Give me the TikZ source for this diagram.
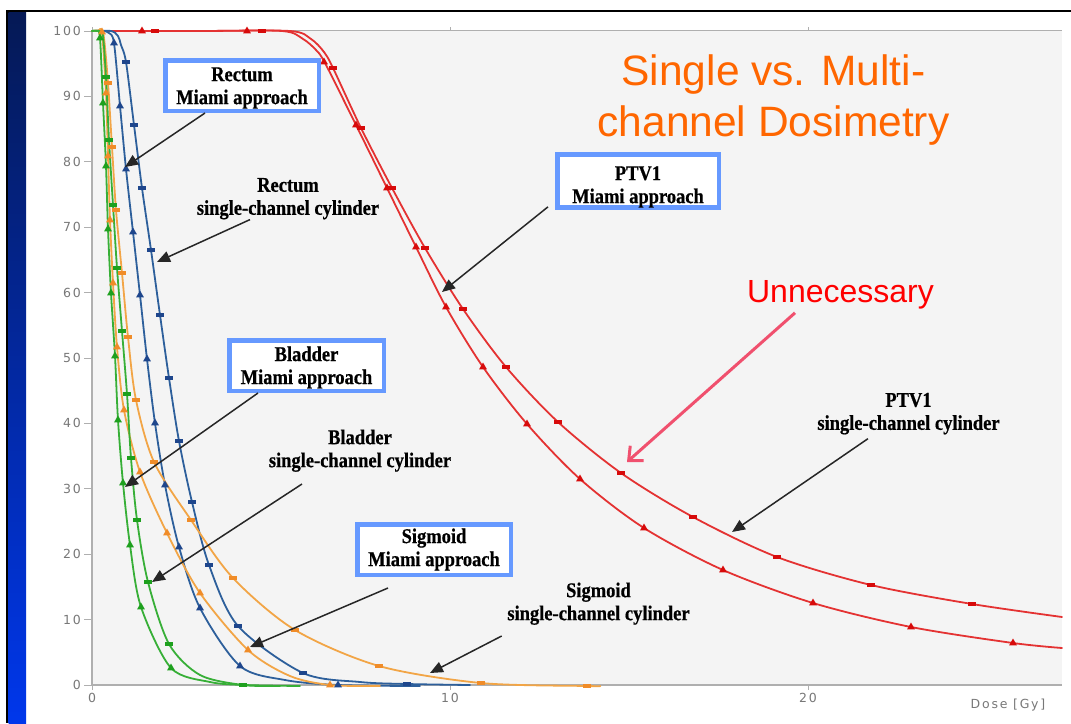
\documentclass[tikz,border=0pt]{standalone}
\usepackage{fontspec}
\setmainfont{Liberation Serif}
\newfontfamily\lblfont[FakeStretch=0.88,FakeBold=0.6]{Liberation Serif}
\newfontfamily\ttlfont{Liberation Sans}
\newfontfamily\axfont[LetterSpace=14]{DejaVu Sans}
\usetikzlibrary{arrows.meta,shapes.geometric}

\definecolor{plotbg}{RGB}{244,244,244}
\definecolor{axisgray}{RGB}{175,175,175}
\definecolor{ticktext}{RGB}{120,120,120}
\definecolor{boxblue}{RGB}{102,153,255}
\definecolor{titleorange}{RGB}{255,102,0}
\definecolor{pinkarrow}{RGB}{240,80,110}
\definecolor{redc}{RGB}{228,50,50}
\definecolor{redm}{RGB}{215,10,10}
\definecolor{bluec}{RGB}{45,95,155}
\definecolor{bluem}{RGB}{30,70,140}
\definecolor{orangec}{RGB}{242,165,70}
\definecolor{orangem}{RGB}{240,140,40}
\definecolor{greenc}{RGB}{55,175,55}
\definecolor{greenm}{RGB}{30,160,30}
\definecolor{navytop}{RGB}{5,25,85}
\definecolor{bluebot}{RGB}{0,55,235}

\newcommand{\hstrut}[1]{\rule{0pt}{#1pt}}

\tikzset{
  curve/.style={line width=1.8pt, line join=round, line cap=round},
  tri/.style={regular polygon, regular polygon sides=3, inner sep=0pt,
              minimum size=9pt, draw=none},
  sq/.style={rectangle, inner sep=0pt, minimum width=8pt, minimum height=4pt, draw=none},
  lbl/.style={align=center, inner sep=0pt,
              font=\lblfont\bfseries\fontsize{21}{23}\selectfont},
  lblbox/.style={lbl, draw=boxblue, line width=4.5pt, fill=white},
  callout/.style={draw=black!85, line width=1.5pt,
                  -{Triangle[length=13pt,width=11pt]}},
  ytick/.style={font=\axfont\fontsize{12.5}{14}\selectfont, text=ticktext,
                inner sep=0pt, anchor=east},
  xtick/.style={font=\axfont\fontsize{12.5}{14}\selectfont, text=ticktext,
                inner sep=0pt}
}

\begin{document}
\begin{tikzpicture}[x=1pt,y=-1pt]
\useasboundingbox (0,0) rectangle (1071,723);
\fill[white] (0,0) rectangle (1071,723);

% slide frame: black rules and blue side bar
\fill[black] (6,9.5) rectangle (1071,12);
\fill[black] (6,9.5) rectangle (8.5,723);
\shade[top color=navytop, bottom color=bluebot] (8.5,12) rectangle (26,723);

% plot area
\fill[plotbg] (92,30) rectangle (1062,685);
\draw[axisgray, line width=1pt] (92,30) -- (1062,30);
\draw[axisgray, line width=1.6pt] (92,30) -- (92,685) -- (1062,685);

% y axis ticks and labels
\foreach \v in {0,10,...,100} {
  \pgfmathsetmacro{\yy}{685-6.54*\v}
  \draw[axisgray, line width=1pt] (84,\yy) -- (92,\yy);
  \node[ytick] (yl\v) at (81,\yy) {\v};
}
% x axis ticks and labels
\foreach \g/\xx in {0/92,10/450,20/808} {
  \draw[axisgray, line width=1pt] (\xx,685) -- (\xx,690);
  \draw[axisgray, line width=1pt] (\xx,27) -- (\xx,30);
  \node[xtick] (xl\g) at (\xx,698) {\g};
}
\node[xtick] (xunit) at (1008,705) {Dose [Gy]};

% ---- dose-volume curves ----
% PTV1
\draw[curve, redc] plot[smooth] coordinates {(92,31) (200,31) (282,31) (303,39) (316,50)
  (325,63) (356,125) (387,188) (416,247) (446,307) (483,367) (527,424) (580,479)
  (644,528) (723,570) (813,603) (911,627) (1013,643) (1062,648)};
\draw[curve, redc] plot[smooth] coordinates {(92,31) (200,31) (290,31) (311,39) (324,52)
  (333,68) (361,128) (392,188) (425,248) (463,309) (506,367) (558,422) (621,473)
  (693,517) (777,557) (871,585) (972,604) (1062,617)};
% rectum
\draw[curve, bluec] plot[smooth] coordinates {(92,31) (103,31) (109,33) (114,43) (120,106)
  (126,169) (133,232) (140,295) (147,359) (155,423) (165,485) (179,547) (200,608)
  (240,666) (285,680) (338,685) (420,686)};
\draw[curve, bluec] plot[smooth] coordinates {(92,31) (111,31) (118,36) (121,45) (126,62)
  (134,125) (142,188) (151,250) (160,315) (169,378) (179,441) (192,502) (209,565)
  (238,626) (303,673) (360,682) (407,684) (470,685)};
% orange organ
\draw[curve, orangec] plot[smooth] coordinates {(92,31) (98,31) (102,33) (106,93) (108,156)
  (110,220) (113,283) (117,347) (124,410) (140,472) (167,533) (200,593) (248,650)
  (290,676) (330,685) (380,686)};
\draw[curve, orangec] plot[smooth] coordinates {(92,31) (101,31) (104,38) (108,83) (112,147)
  (116,210) (122,273) (128,337) (136,400) (154,462) (191,520) (233,578) (295,630)
  (379,666) (481,683) (587,686) (600,686)};
% green organ
\draw[curve, greenc] plot[smooth] coordinates {(92,31) (97,31) (100,38) (103,103) (106,166)
  (108,229) (111,293) (115,356) (118,420) (123,483) (130,545) (141,607) (171,668)
  (210,682) (245,685) (300,686)};
\draw[curve, greenc] plot[smooth] coordinates {(92,31) (100,31) (103,36) (106,77) (109,140)
  (113,205) (117,268) (122,331) (127,394) (131,458) (137,520) (148,582) (169,644)
  (200,675) (243,685) (280,686)};

% ---- markers: triangles (Miami approach), bars (single-channel cylinder) ----
\foreach \p [count=\i] in {(142,31),(247,31),(324,62),(356,125),(387,188),(416,247),
  (446,307),(483,367),(527,424),(580,479),(644,528),(723,570),(813,603),(911,627),(1013,643)}
  \node[tri, fill=redm] (rt\i) at \p {};
\foreach \p [count=\i] in {(155,31),(262,31),(333,68),(361,128),(392,188),(425,248),
  (463,309),(506,367),(558,422),(621,473),(693,517),(777,557),(871,585),(972,604)}
  \node[sq, fill=redm] (rs\i) at \p {};
\foreach \p [count=\i] in {(114,43),(120,106),(126,169),(133,232),(140,295),(147,359),
  (155,423),(165,485),(179,547),(200,608),(240,666),(338,685)}
  \node[tri, fill=bluem] (bt\i) at \p {};
\foreach \p [count=\i] in {(126,62),(134,125),(142,188),(151,250),(160,315),(169,378),
  (179,441),(192,502),(209,565),(238,626),(303,673),(407,684)}
  \node[sq, fill=bluem] (bq\i) at \p {};
\foreach \p [count=\i] in {(102,32),(106,93),(108,156),(110,220),(113,283),(117,347),
  (124,410),(140,472),(167,533),(200,593),(248,650),(330,685)}
  \node[tri, fill=orangem] (ot\i) at \p {};
\foreach \p [count=\i] in {(108,83),(112,147),(116,210),(122,273),(128,337),(136,400),
  (154,462),(191,520),(233,578),(295,630),(379,666),(481,683),(587,686)}
  \node[sq, fill=orangem] (oq\i) at \p {};
\foreach \p [count=\i] in {(100,38),(103,103),(106,166),(108,229),(111,293),(115,356),
  (118,420),(123,483),(130,545),(141,607),(171,668)}
  \node[tri, fill=greenm] (gt\i) at \p {};
\foreach \p [count=\i] in {(106,77),(109,140),(113,205),(117,268),(122,331),(127,394),
  (131,458),(137,520),(148,582),(169,644),(243,685)}
  \node[sq, fill=greenm] (gq\i) at \p {};

% ---- title ----
\node[align=center, inner sep=0pt, text=titleorange,
      font=\ttlfont\fontsize{42.5}{51}\selectfont] (title) at (773.5,99.8)
      {Single vs. Multi-\\channel Dosimetry};

% ---- labels ----
\node[lblbox, minimum width=153.5pt, minimum height=50.5pt] (rm) at (242,85.5)
  {\hstrut{18.7}Rectum\\Miami approach};
\node[lbl] (rsl) at (288,198.7) {Rectum\\single-channel cylinder};
\node[lblbox, minimum width=154.5pt, minimum height=50.5pt] (bm) at (306.5,365.5)
  {\hstrut{18.5}Bladder\\Miami approach};
\node[lbl] (bsl) at (360,450.7) {Bladder\\single-channel cylinder};
\node[lblbox, minimum width=153.5pt, minimum height=50.5pt] (sgm) at (434,549.5)
  {Sigmoid\\Miami approach};
\node[lbl] (ssl) at (598.5,603.7) {Sigmoid\\single-channel cylinder};
\node[lblbox, minimum width=161.5pt, minimum height=49.5pt] (pm) at (638,181)
  {\hstrut{25.7}PTV1\\Miami approach};
\node[lbl] (psl) at (908.5,413.7) {PTV1\\single-channel cylinder};

\node[anchor=base, inner sep=0pt, text=red,
      font=\ttlfont\fontsize{32}{36}\selectfont] (un) at (840.5,302) {Unnecessary};

% ---- arrow targets on the curves ----
\coordinate (tRM) at (125,167);
\coordinate (tRS) at (157,262);
\coordinate (tBM) at (125,487);
\coordinate (tBS) at (152,582);
\coordinate (tSM) at (250,647);
\coordinate (tSS) at (430,673);
\coordinate (tPM) at (442,292);
\coordinate (tPS) at (732,532);
\coordinate (tUN) at (627,462);

% ---- callout arrows ----
\draw[callout] ([xshift=-37pt]rm.south) -- (tRM);
\draw[callout] ([xshift=-38pt]rsl.south) -- (tRS);
\draw[callout] ([xshift=-48.5pt]bm.south) -- (tBM);
\draw[callout] ([xshift=-58pt,yshift=-12pt]bsl.south) -- (tBS);
\draw[callout] ([xshift=-46pt,yshift=-11pt]sgm.south) -- (tSM);
\draw[callout] ([xshift=-5.5pt,yshift=-11pt]ssl.south west) -- (tSS);
\draw[callout] ([xshift=-7pt,yshift=3pt]pm.south west) -- (tPM);
\draw[callout] ([xshift=-40.5pt,yshift=-4pt]psl.south) -- (tPS);
\draw[pinkarrow, line width=3pt,
      -{Straight Barb[length=11pt,width=20pt,line width=3pt]}]
      ([xshift=-45.5pt,yshift=-4pt]un.south) -- (tUN);
\end{tikzpicture}
\end{document}
